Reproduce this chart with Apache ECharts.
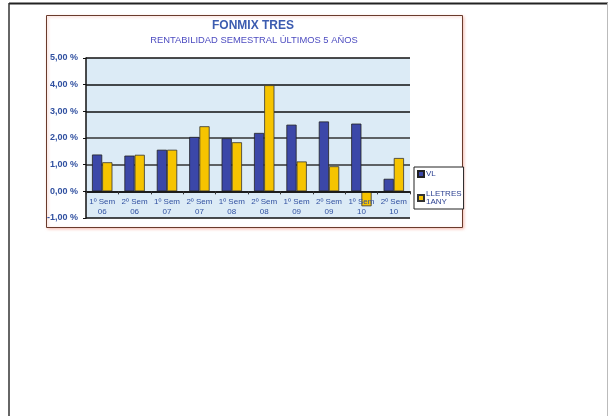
<!DOCTYPE html>
<html>
<head>
<meta charset="utf-8">
<script src="https://cdn.jsdelivr.net/npm/echarts@6/dist/echarts.min.js"></script>
<style>
  html, body { margin: 0; padding: 0; background: #fff; }
  #chart { width: 609px; height: 416px; }
</style>
</head>
<body>
<div id="chart"></div>
<script>
const categories = ['1º Sem\n06', '2º Sem\n06', '1º Sem\n07', '2º Sem\n07', '1º Sem\n08', '2º Sem\n08', '1º Sem\n09', '2º Sem\n09', '1º Sem\n10', '2º Sem\n10'];
const vlValues = [1.38, 1.34, 1.56, 2.04, 1.99, 2.19, 2.50, 2.62, 2.54, 0.47];
const lletresValues = [1.09, 1.37, 1.56, 2.44, 1.84, 3.98, 1.12, 0.94, -0.56, 1.25];
const yTickValues = [-1, 0, 1, 2, 3, 4, 5];
const yTickLabels = ['-1,00 %', '0,00 %', '1,00 %', '2,00 %', '3,00 %', '4,00 %', '5,00 %'];
const titleText = 'FONMIX TRES';
const subtitleText = 'RENTABILIDAD SEMESTRAL ÚLTIMOS 5 AÑOS';
const seriesNames = ['VL', 'LLETRES\n1ANY'];

const chart = echarts.init(document.getElementById('chart'), null, { renderer: 'canvas' });
const font = 'Liberation Sans, Arial, sans-serif';
const yMin = -1, yMax = 5;
const gridTop = 58, gridBottom = 198;
const gridHeight = 416 - gridTop - gridBottom;
const zeroOffset = -gridHeight * (0 - yMin) / (yMax - yMin);

chart.setOption({
  animation: false,
  backgroundColor: '#ffffff',
  graphic: [
    { type: 'line', shape: { x1: 9, y1: 3.5, x2: 608, y2: 3.5 }, style: { stroke: '#222', lineWidth: 2 } },
    { type: 'line', shape: { x1: 9, y1: 3, x2: 9, y2: 416 }, style: { stroke: '#333', lineWidth: 1.5 } },
    { type: 'line', shape: { x1: 607.5, y1: 3, x2: 607.5, y2: 416 }, style: { stroke: '#bbb', lineWidth: 1 } },
    { type: 'rect', z: -10, shape: { x: 46.5, y: 15.5, width: 416, height: 212 },
      style: { fill: '#ffffff', stroke: '#6a3b2c', lineWidth: 1, shadowColor: 'rgba(240,150,130,0.6)', shadowBlur: 3, shadowOffsetX: 1, shadowOffsetY: 1 } },
    { type: 'text', x: 253, y: 26, style: { text: titleText, fill: '#3c5cb0', font: 'bold 12px ' + font, textAlign: 'center', textVerticalAlign: 'middle' } },
    { type: 'text', x: 254, y: 40, style: { text: subtitleText, fill: '#4d4cc0', font: '9.4px ' + font, textAlign: 'center', textVerticalAlign: 'middle' } }
  ],
  legend: {
    orient: 'vertical',
    left: 414,
    top: 167,
    width: 46,
    data: seriesNames,
    itemWidth: 6,
    itemHeight: 6,
    itemGap: 12,
    icon: 'rect',
    padding: [3, 2, 3, 3],
    borderColor: '#222',
    borderWidth: 1,
    backgroundColor: '#fff',
    textStyle: { fontSize: 8, color: '#2a3f90', fontFamily: font, lineHeight: 8, padding: [0, 0, 0, -3] }
  },
  grid: {
    left: 86,
    right: 199,
    top: gridTop,
    bottom: gridBottom,
    show: true,
    backgroundColor: '#dcebf6',
    borderWidth: 0
  },
  xAxis: {
    type: 'category',
    data: categories,
    position: 'bottom',
    offset: zeroOffset,
    z: 3,
    axisLine: { onZero: false, lineStyle: { color: '#111', width: 1.5 } },
    axisTick: { show: true, inside: false, length: 3, lineStyle: { color: '#333' } },
    axisLabel: { color: '#3050a0', fontSize: 8, fontFamily: font, margin: 5, lineHeight: 10, interval: 0 },
    splitLine: { show: false }
  },
  yAxis: {
    type: 'value',
    min: yMin,
    max: yMax,
    interval: 1,
    axisLine: { show: true, lineStyle: { color: '#111', width: 1.5 } },
    axisTick: { show: true, length: 3, lineStyle: { color: '#111' } },
    axisLabel: {
      color: '#3050a0', fontSize: 9, fontWeight: 'bold', fontFamily: font, margin: 8,
      formatter: function (v) { const i = yTickValues.indexOf(v); return i >= 0 ? yTickLabels[i] : ''; }
    },
    splitLine: { show: true, lineStyle: { color: ['#111', '#111', '#333', '#333', '#111', '#111', '#111'], width: 1.5 } }
  },
  series: [
    {
      name: seriesNames[0], type: 'bar', data: vlValues,
      barGap: '0%', barCategoryGap: '37%',
      itemStyle: { color: '#3b47a8', borderColor: '#222', borderWidth: 0.8 }
    },
    {
      name: seriesNames[1], type: 'bar', data: lletresValues,
      barGap: '0%', barCategoryGap: '37%',
      itemStyle: { color: '#f6c400', borderColor: '#333', borderWidth: 0.8 }
    }
  ]
});
</script>
</body>
</html>
